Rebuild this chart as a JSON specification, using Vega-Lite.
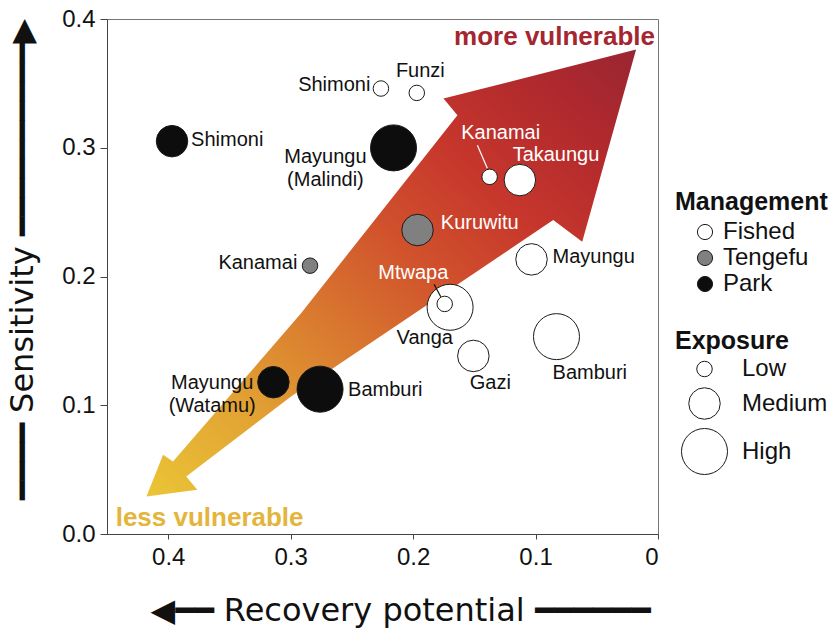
{
  "$schema": "https://vega.github.io/schema/vega-lite/v6.json",
  "width": 551,
  "height": 515,
  "autosize": {"type": "none"},
  "padding": {"left": 107, "top": 19, "right": 175, "bottom": 98},
  "background": "white",
  "config": {
    "font": "Liberation Sans",
    "view": {"stroke": "#777777", "strokeWidth": 1},
    "axis": {
      "grid": false,
      "domainColor": "#444444",
      "tickColor": "#444444",
      "labelColor": "#111111",
      "labelFont": "Liberation Sans",
      "labelFontSize": 24,
      "titleFont": "DejaVu Sans",
      "titleFontSize": 32,
      "titleFontWeight": "normal",
      "titleColor": "#111111"
    },
    "legend": {
      "titleFont": "Liberation Sans",
      "titleFontSize": 25,
      "titleFontWeight": "bold",
      "titleColor": "#111111",
      "labelFont": "Liberation Sans",
      "labelFontSize": 24,
      "labelColor": "#111111",
      "padding": 0
    }
  },
  "datasets": {
    "arrow": [
      {"i": 1, "x": 0.0179, "y": 0.3763},
      {"i": 2, "x": 0.0619, "y": 0.2270},
      {"i": 3, "x": 0.0856, "y": 0.2438},
      {"i": 4, "x": 0.2997, "y": 0.1067},
      {"i": 5, "x": 0.3853, "y": 0.0447},
      {"i": 6, "x": 0.3763, "y": 0.0344},
      {"i": 7, "x": 0.4178, "y": 0.0292},
      {"i": 8, "x": 0.4042, "y": 0.0615},
      {"i": 9, "x": 0.3961, "y": 0.0563},
      {"i": 10, "x": 0.2915, "y": 0.1715},
      {"i": 11, "x": 0.1638, "y": 0.3253},
      {"i": 12, "x": 0.1752, "y": 0.3382}
    ],
    "sites": [
      {"site": "Shimoni", "management": "Fished", "exposure": "Low", "recovery": 0.2263, "sensitivity": 0.346},
      {"site": "Funzi", "management": "Fished", "exposure": "Low", "recovery": 0.197, "sensitivity": 0.3426},
      {"site": "Kanamai", "management": "Fished", "exposure": "Low", "recovery": 0.1375, "sensitivity": 0.2774},
      {"site": "Takaungu", "management": "Fished", "exposure": "Medium", "recovery": 0.1128, "sensitivity": 0.2749},
      {"site": "Mayungu", "management": "Fished", "exposure": "Medium", "recovery": 0.1033, "sensitivity": 0.2133},
      {"site": "Vanga", "management": "Fished", "exposure": "High", "recovery": 0.1698, "sensitivity": 0.1761},
      {"site": "Mtwapa", "management": "Fished", "exposure": "Low", "recovery": 0.1742, "sensitivity": 0.1787},
      {"site": "Gazi", "management": "Fished", "exposure": "Medium", "recovery": 0.1508, "sensitivity": 0.1383},
      {"site": "Bamburi", "management": "Fished", "exposure": "High", "recovery": 0.0829, "sensitivity": 0.1533},
      {"site": "Kanamai", "management": "Tengefu", "exposure": "Low", "recovery": 0.2842, "sensitivity": 0.2084},
      {"site": "Kuruwitu", "management": "Tengefu", "exposure": "Medium", "recovery": 0.1964, "sensitivity": 0.2361},
      {"site": "Shimoni", "management": "Park", "exposure": "Medium", "recovery": 0.3969, "sensitivity": 0.3051},
      {"site": "Mayungu (Malindi)", "management": "Park", "exposure": "High", "recovery": 0.216, "sensitivity": 0.2999},
      {"site": "Mayungu (Watamu)", "management": "Park", "exposure": "Medium", "recovery": 0.3141, "sensitivity": 0.1179},
      {"site": "Bamburi", "management": "Park", "exposure": "High", "recovery": 0.276, "sensitivity": 0.1125}
    ],
    "labels": [
      {"label": "Shimoni", "x": 0.2644, "y": 0.3486, "white": false},
      {"label": "Funzi", "x": 0.1941, "y": 0.3597, "white": false},
      {"label": "Shimoni", "x": 0.3518, "y": 0.3059, "white": false},
      {"label": "Mayungu\n(Malindi)", "x": 0.2716, "y": 0.2931, "white": false},
      {"label": "Kanamai", "x": 0.3268, "y": 0.2102, "white": false},
      {"label": "Kanamai", "x": 0.1285, "y": 0.3111, "white": true},
      {"label": "Takaungu", "x": 0.0833, "y": 0.2943, "white": true},
      {"label": "Kuruwitu", "x": 0.1456, "y": 0.2413, "white": true},
      {"label": "Mayungu", "x": 0.0525, "y": 0.2154, "white": false},
      {"label": "Mtwapa", "x": 0.1998, "y": 0.2025, "white": true},
      {"label": "Vanga", "x": 0.1905, "y": 0.1521, "white": false},
      {"label": "Gazi", "x": 0.1369, "y": 0.1171, "white": false},
      {"label": "Bamburi", "x": 0.0557, "y": 0.1254, "white": false},
      {"label": "Mayungu\n(Watamu)", "x": 0.3641, "y": 0.1171, "white": false},
      {"label": "Bamburi", "x": 0.2227, "y": 0.1119, "white": false}
    ],
    "leaders": [
      {"x": 0.1475, "y": 0.302, "x2": 0.1394, "y2": 0.284, "white": true},
      {"x": 0.1829, "y": 0.194, "x2": 0.1774, "y2": 0.1843, "white": false}
    ],
    "notes": [
      {"note": "more vulnerable", "x": 0.0845, "y": 0.3801},
      {"note": "less vulnerable", "x": 0.3662, "y": 0.0059}
    ]
  },
  "layer": [
    {
      "data": {"name": "arrow"},
      "mark": {
        "type": "line",
        "strokeWidth": 0,
        "fill": {
          "gradient": "linear",
          "x1": 0, "y1": 1, "x2": 1, "y2": 0,
          "stops": [
            {"offset": 0, "color": "#EAC536"},
            {"offset": 0.2, "color": "#E2A233"},
            {"offset": 0.4, "color": "#D8732F"},
            {"offset": 0.55, "color": "#D0502C"},
            {"offset": 0.7, "color": "#C6362C"},
            {"offset": 0.85, "color": "#B22A2D"},
            {"offset": 1, "color": "#992532"}
          ]
        }
      },
      "encoding": {
        "x": {
          "field": "x", "type": "quantitative",
          "scale": {"domain": [0, 0.45], "reverse": true, "nice": false, "zero": false},
          "axis": {
            "title": "◀━━ Recovery potential ━━━━━━",
            "values": [0, 0.1, 0.2, 0.3, 0.4],
            "labelExpr": "datum.value == 0 ? '0' : format(datum.value, '.1f')",
            "tickSize": 5,
            "labelPadding": 6,
            "titleX": 293,
            "titleY": 86,
            "titleBaseline": "alphabetic"
          }
        },
        "y": {
          "field": "y", "type": "quantitative",
          "scale": {"domain": [0, 0.4], "nice": false, "zero": false},
          "axis": {
            "title": "━━━━ Sensitivity ━━━━━━━━━━▶",
            "values": [0, 0.1, 0.2, 0.3, 0.4],
            "format": ".1f",
            "tickSize": 7,
            "labelPadding": 5,
            "titleX": -75,
            "titleY": 240,
            "titleBaseline": "alphabetic"
          }
        },
        "order": {"field": "i", "type": "quantitative"}
      }
    },
    {
      "data": {"name": "sites"},
      "mark": {"type": "point", "shape": "circle", "filled": true, "stroke": "#1a1a1a", "strokeWidth": 1, "opacity": 1},
      "encoding": {
        "x": {"field": "recovery", "type": "quantitative", "scale": {"domain": [0, 0.45], "reverse": true, "nice": false, "zero": false}},
        "y": {"field": "sensitivity", "type": "quantitative", "scale": {"domain": [0, 0.4], "nice": false, "zero": false}},
        "fill": {
          "field": "management", "type": "nominal",
          "scale": {"domain": ["Fished", "Tengefu", "Park"], "range": ["#ffffff", "#808080", "#0d0d0d"]},
          "legend": {
            "title": "Management",
            "orient": "none",
            "legendX": 568,
            "legendY": 171,
            "symbolType": "circle",
            "symbolSize": 230,
            "symbolStrokeColor": "#1a1a1a",
            "symbolStrokeWidth": 1,
            "symbolOffset": 18,
            "labelOffset": 6,
            "rowPadding": 2,
            "titlePadding": 5,
            "encode": {"symbols": {"update": {"stroke": {"value": "#1a1a1a"}, "strokeWidth": {"value": 1}}}}
          }
        },
        "size": {
          "field": "exposure", "type": "ordinal",
          "scale": {"type": "ordinal", "domain": ["Low", "Medium", "High"], "range": [240, 992, 2116]},
          "legend": {
            "title": "Exposure",
            "orient": "none",
            "legendX": 568,
            "legendY": 310,
            "symbolType": "circle",
            "symbolFillColor": "#ffffff",
            "symbolStrokeColor": "#1a1a1a",
            "symbolStrokeWidth": 1,
            "symbolOffset": 6,
            "labelOffset": 14,
            "rowPadding": 4,
            "titlePadding": 3,
            "encode": {"symbols": {"update": {"fill": {"value": "#ffffff"}, "stroke": {"value": "#1a1a1a"}, "strokeWidth": {"value": 1}, "opacity": {"value": 1}}}}
          }
        }
      }
    },
    {
      "data": {"name": "labels"},
      "mark": {"type": "text", "font": "Liberation Sans", "fontSize": 20, "align": "center", "baseline": "middle", "lineBreak": "\n", "lineHeight": 23},
      "encoding": {
        "x": {"field": "x", "type": "quantitative", "scale": {"domain": [0, 0.45], "reverse": true, "nice": false, "zero": false}},
        "y": {"field": "y", "type": "quantitative", "scale": {"domain": [0, 0.4], "nice": false, "zero": false}},
        "text": {"field": "label", "type": "nominal"},
        "color": {"condition": {"test": "datum.white", "value": "#ffffff"}, "value": "#111111"}
      }
    },
    {
      "data": {"name": "leaders"},
      "mark": {"type": "rule", "strokeWidth": 1.2},
      "encoding": {
        "x": {"field": "x", "type": "quantitative", "scale": {"domain": [0, 0.45], "reverse": true, "nice": false, "zero": false}},
        "y": {"field": "y", "type": "quantitative", "scale": {"domain": [0, 0.4], "nice": false, "zero": false}},
        "x2": {"field": "x2"},
        "y2": {"field": "y2"},
        "color": {"condition": {"test": "datum.white", "value": "#ffffff"}, "value": "#111111"}
      }
    },
    {
      "data": {"name": "notes"},
      "mark": {"type": "text", "font": "Liberation Sans", "fontSize": 26, "fontWeight": "bold", "align": "center", "baseline": "alphabetic"},
      "encoding": {
        "x": {"field": "x", "type": "quantitative", "scale": {"domain": [0, 0.45], "reverse": true, "nice": false, "zero": false}},
        "y": {"field": "y", "type": "quantitative", "scale": {"domain": [0, 0.4], "nice": false, "zero": false}},
        "text": {"field": "note", "type": "nominal"},
        "color": {
          "field": "note", "type": "nominal",
          "scale": {"domain": ["more vulnerable", "less vulnerable"], "range": ["#A32630", "#E4B53B"]},
          "legend": null
        }
      }
    }
  ]
}
